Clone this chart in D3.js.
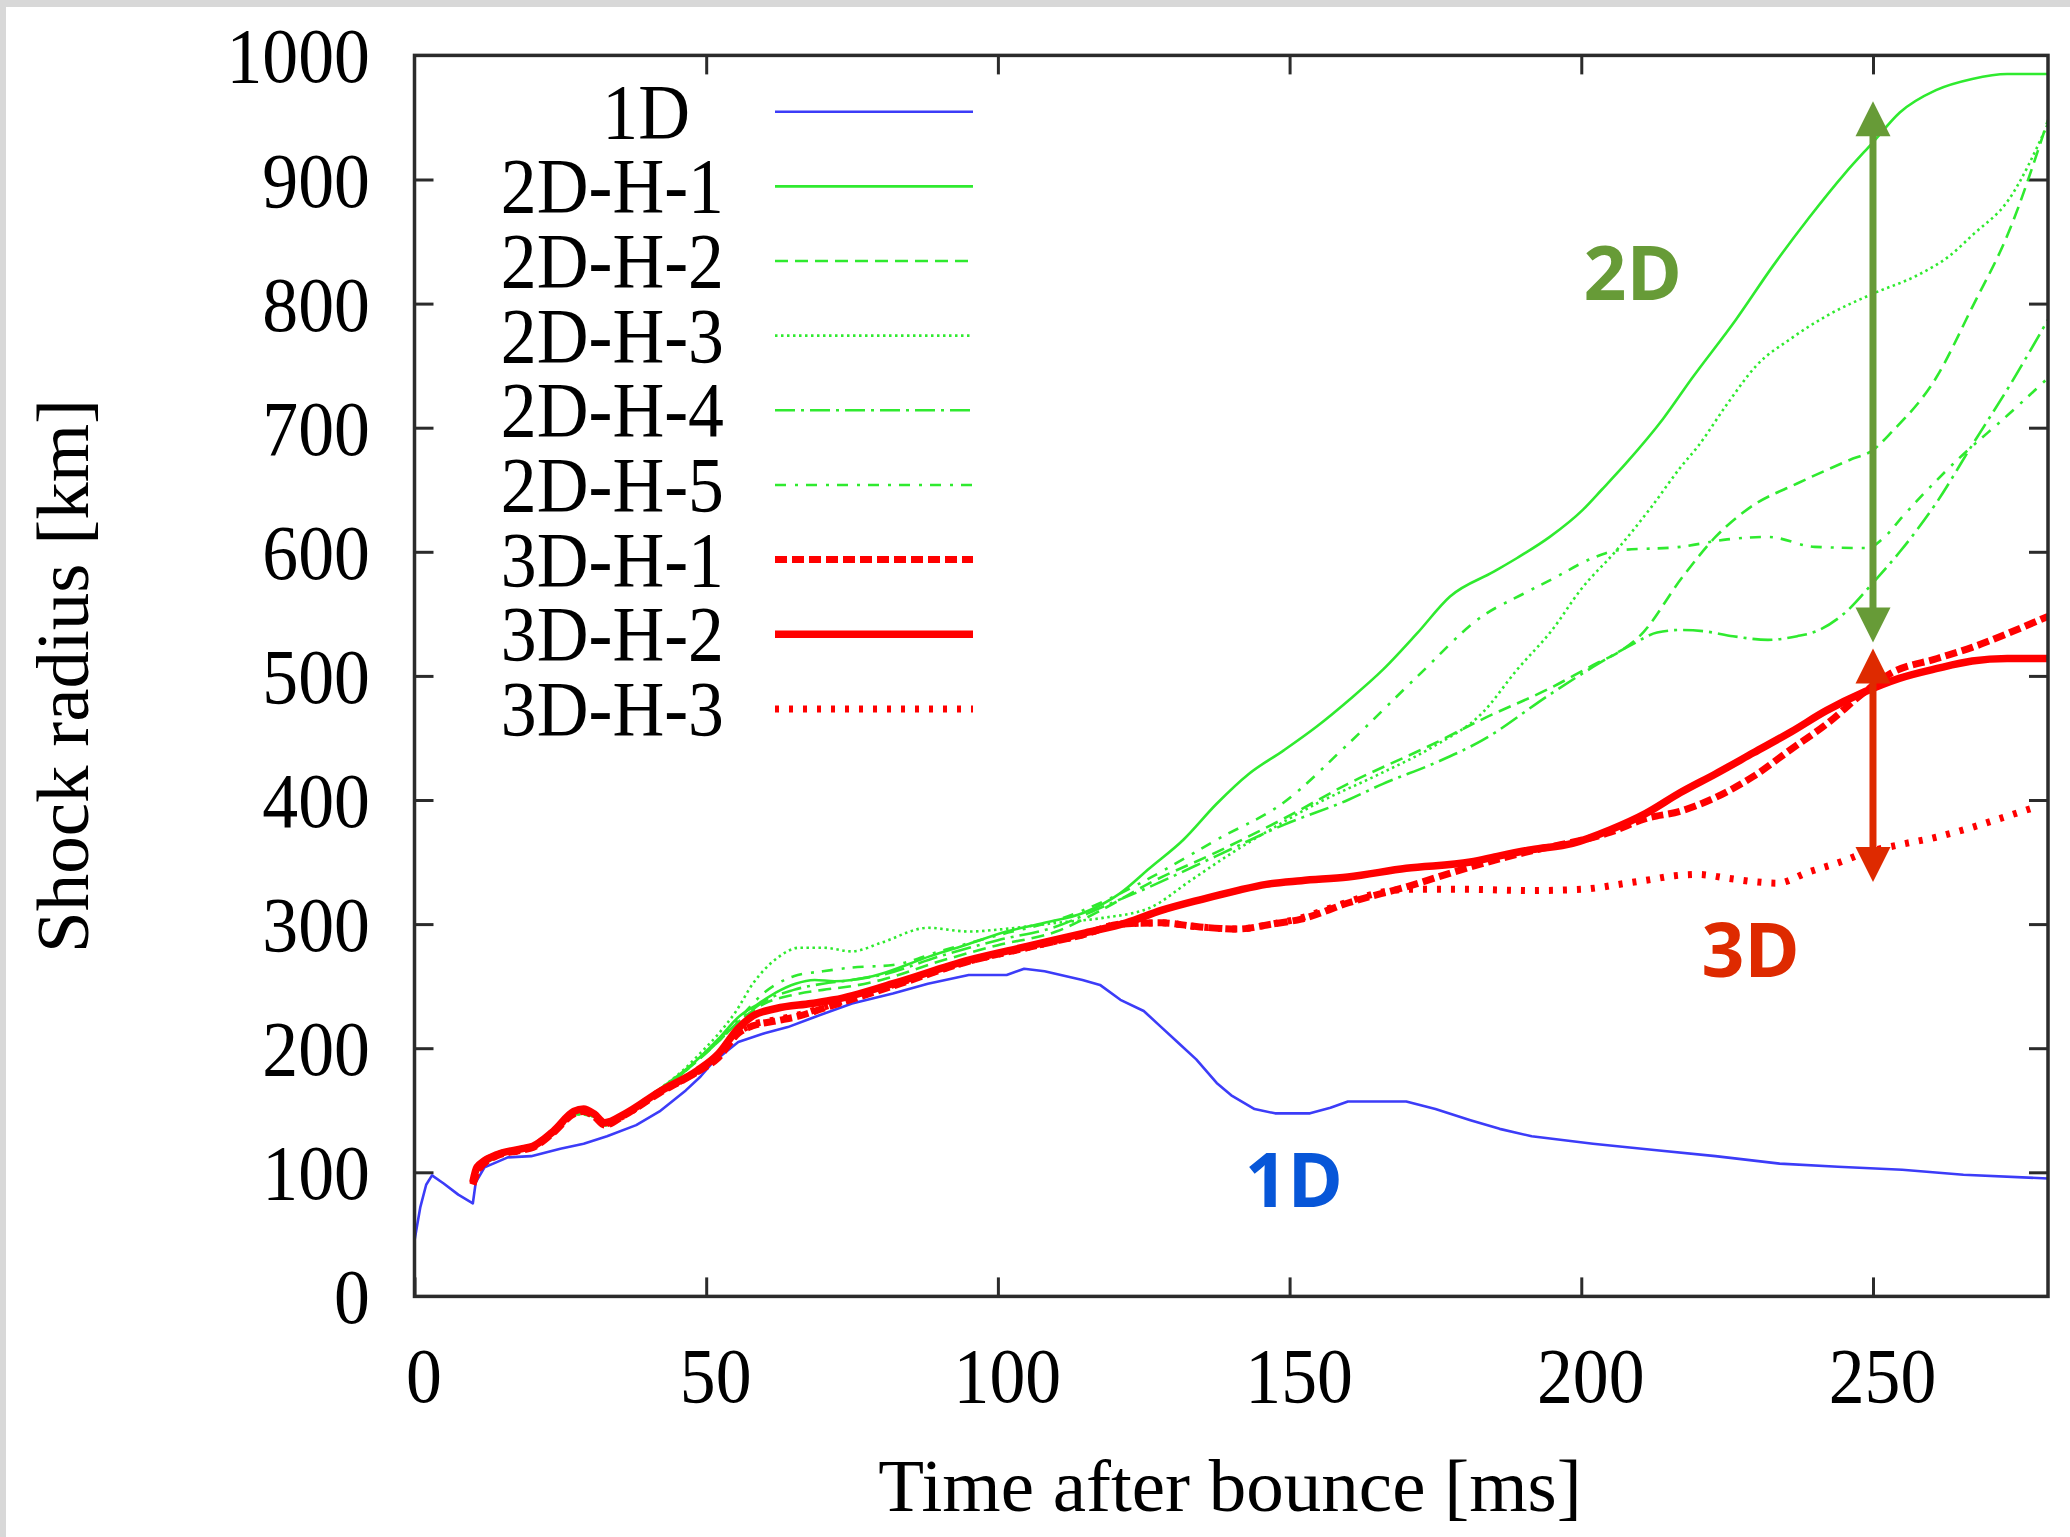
<!DOCTYPE html>
<html>
<head>
<meta charset="utf-8">
<script src="https://cdn.jsdelivr.net/npm/d3@7"></script>
<style>
  html, body { margin: 0; padding: 0; background: #ffffff; }
  svg { display: block; }
</style>
</head>
<body>
<script>
// Shock radius versus time after bounce for the 1D, 2D and 3D runs.
// Each series is a list of [time (ms), radius (km)] samples.

const r1D = [[0,45],[1,72],[2,90],[3,97.5],[5,91],[7.5,82],[10,75],[10.5,92],[12,104],[16,112],[20,113],[25,119],[29,123],[33,129],[38,138],[42,149],[46.5,166],[49,177],[51,188],[55.5,205],[60,212],[64,217],[68.5,225],[75,236],[82,244],[88,252],[95,259],[101.5,259],[104.5,264],[108,262],[114.5,255],[117.5,251],[121,239],[125,230],[128,217],[131,204],[134,191],[137.5,172],[140,162],[144,151],[147.5,147.5],[153.5,147.5],[157,152],[160,157],[170,157],[175,151],[181,142],[186,135],[191.5,129],[202,123],[212.5,118],[223,113],[234,107],[244,104.5],[255,102],[265.5,98],[280,95]];

const r2DH1 = [[10,92],[11,103],[14,113],[20,121],[24,133],[27.3,148],[30.8,146],[32.6,139],[36,147],[42,167],[46,181],[49,193],[52,207],[55.5,225],[59,236],[62,245],[65.3,252],[68.6,255],[72,254],[78.5,258],[88.3,274],[95,284],[101.5,294],[108,301],[114.6,309],[121,325],[126,345],[131.8,368],[137.5,397],[143,421],[149,440],[154.6,459],[160.3,481],[166,505],[171.8,534],[177.5,564],[185,584],[189,595],[194.6,612],[200.3,634],[203.5,650],[207.8,672],[214,707],[219,740],[226.5,787],[232.8,830],[239,869],[245.2,905],[250,930],[254.6,954],[260.8,972],[267,981],[273,985],[280,985]];

const r2DH2 = [[10,91],[11,102],[14,112],[20,120],[24,132],[27.3,147],[30.8,145],[32.6,138],[36,146],[42,166],[46,180],[49,192],[52,205],[55.5,221],[60,236],[65,243],[70,247],[75,250],[80,255],[90,270],[100,283],[110,294],[118,312],[126,333],[137.5,358],[149,385],[160,413],[175,446],[183,465],[194.6,490],[203,511],[206,518],[210,532],[217.4,580],[223,612],[229,636],[237,655],[246,674],[250,682],[253.3,697],[260.8,740],[267,797],[273.3,858],[280,948]];

const r2DH3 = [[10,91],[11,102],[14,112],[20,120],[24,132],[27.3,147],[30.8,145],[32.6,138],[36,146],[42,167],[46,182],[49,196],[52,211],[55,229],[58,252],[62,272],[66,281],[70,281],[75,278],[80,285],[88,297],[95,294],[101,296],[110,301],[118,305],[126,313],[133,335],[140,357],[147,377],[154.6,397],[165,420],[174.6,443],[183,470],[189,505],[195,537],[200,570],[206,601],[212,636],[217,668],[220,685],[225,719],[230,750],[236,772],[242,790],[250,808],[257.7,823],[263,838],[267,855],[273.3,884],[280,945]];

const r2DH4 = [[10,91],[11,102],[14,112],[20,120],[24,132],[27.3,147],[30.8,145],[32.6,138],[36,146],[42,166],[46,180],[49,192],[52,205],[55.5,221],[60,238],[65,247],[70,252],[75,255],[80,259],[90,274],[100,287],[110,298],[118,314],[126,330],[137.5,355],[149,380],[160,400],[166,413],[175,430],[183,448],[194.6,485],[203,510],[209,526],[213,535],[217,537],[221,536],[226,532],[232,529],[237,532],[240.3,536],[245,550],[250,575],[254.6,600],[260.8,639],[267,686],[273.3,733],[280,787]];

const r2DH5 = [[10,91],[11,102],[14,112],[20,120],[24,132],[27.3,147],[30.8,145],[32.6,138],[36,146],[42,166],[46,180],[49,193],[52,206],[55.5,223],[60,245],[65,258],[70,262],[75,265],[82,267],[90,278],[100,291],[110,303],[118,318],[126,337],[137.5,368],[149,398],[160,445],[172,500],[183,548],[190,566],[195,578],[202,595],[206,601],[217,604],[225,610],[232,612],[240,604],[249,603],[252,612],[255,628],[264,672],[273.3,711],[280,740]];

const r3DH1 = [[10,90],[11,102],[14,113],[18.5,118],[20.3,120],[23.8,132],[27.3,147],[29,149],[30.8,145],[32.6,138],[36,146],[42,164],[48.5,181],[52,192],[55.5,212],[58,218],[62,222],[66,226],[70,232],[82,250],[95,270],[105,281],[115,292],[121,300],[128,301],[134,298],[141,296],[147,300],[152,304],[160,317],[170,330],[181,346],[191.5,359],[198.5,366],[205,374],[211,385],[217,391],[223,402],[229.5,419],[236,441],[242,461],[248.3,486],[253,502],[261,514],[267,523],[273,534],[280,548]];

const r3DH2 = [[10,92],[10.7,104],[14,114],[18.5,119],[20.3,121],[23.8,133],[27.3,149],[29,151],[30.8,147],[32.6,140],[36,147],[42,165],[48.5,182],[52,195],[55.5,216],[58,226],[62,232],[68,236],[72,239],[82,252],[95,271],[105,282],[115,293],[122,301],[128,311],[135,320],[141,327],[146,332],[152,335],[160,338],[170,345],[181,350],[186,355],[191.5,360],[198.5,365],[205,376],[211,389],[217,406],[223,421],[229.5,438],[236,455],[242,472],[248.5,487],[254.5,498],[261,506],[267,512],[273,514],[280,514]];

const r3DH3 = [[10,91],[11,103],[14,114],[18.5,118],[20.3,121],[23.8,133],[27.3,148],[29,150],[30.8,146],[32.6,139],[36,146],[42,165],[48.5,181],[52,193],[55.5,213],[58,219],[62,223],[66,227],[70,233],[82,251],[95,270],[105,281],[115,292],[121,300],[128,301],[134,298],[141,296],[147,300],[152,305],[157,313],[162,321],[166,326],[170,328],[180,328],[191.5,327],[200,328],[207.8,333],[212,336],[216,339],[220,340],[225,337],[230,334],[233.5,333],[239,342],[244.4,350],[248.3,357],[254.6,364],[260.8,370],[267,378],[273,387],[277,393]];

const seriesNames = ["1D", "2D-H-1", "2D-H-2", "2D-H-3", "2D-H-4", "2D-H-5", "3D-H-1", "3D-H-2", "3D-H-3"];
const seriesValues = [r1D, r2DH1, r2DH2, r2DH3, r2DH4, r2DH5, r3DH1, r3DH2, r3DH3];

const xTicks = [0, 50, 100, 150, 200, 250];
const yTicks = [0, 100, 200, 300, 400, 500, 600, 700, 800, 900, 1000];

// Double-headed arrows marking the spread of the 2D and 3D runs at t = 250 ms
const spreadTime = 250;
const spread2D = [527, 963];
const spread3D = [334, 522];

// Group labels: text, anchor time, anchor radius (baseline)
const groupLabels = [
  { text: "2D", t: 200.4, r: 803 },
  { text: "3D", t: 220.6, r: 257 },
  { text: "1D", t: 142.3, r: 72 }
];

// ---- styles -------------------------------------------------------------
const GREEN = "#2fea2f", RED = "#ff0000", BLUE = "#3c3cf8";
const styles = {
  "1D":     { color: BLUE,  width: 2.6, dash: null,        curve: d3.curveLinear },
  "2D-H-1": { color: GREEN, width: 2.6, dash: null,        curve: d3.curveMonotoneX },
  "2D-H-2": { color: GREEN, width: 2.6, dash: "13,7",      curve: d3.curveMonotoneX },
  "2D-H-3": { color: GREEN, width: 2.6, dash: "2.5,3.5",   curve: d3.curveMonotoneX },
  "2D-H-4": { color: GREEN, width: 2.6, dash: "20,6,3,6",  curve: d3.curveMonotoneX },
  "2D-H-5": { color: GREEN, width: 2.6, dash: "11,9,3,8",  curve: d3.curveMonotoneX },
  "3D-H-1": { color: RED,   width: 7,   dash: "12,5",      curve: d3.curveMonotoneX },
  "3D-H-2": { color: RED,   width: 7.5, dash: null,        curve: d3.curveMonotoneX },
  "3D-H-3": { color: RED,   width: 7,   dash: "4,10",      curve: d3.curveMonotoneX }
};

const W = 2070, H = 1537;
const x = d3.scaleLinear().domain([0, 280]).range([414.5, 2048]);
const y = d3.scaleLinear().domain([0, 1000]).range([1296.4, 55.4]);

const svg = d3.select("body").append("svg")
  .attr("width", W).attr("height", H)
  .attr("viewBox", `0 0 ${W} ${H}`);

// page background with the thin grey margin along top and left
svg.append("rect").attr("width", W).attr("height", H).attr("fill", "#d8d8d8");
svg.append("rect").attr("x", 6).attr("y", 7).attr("width", W - 6).attr("height", H - 7).attr("fill", "#ffffff");

const serif = "'Liberation Serif', 'Times New Roman', serif";
const sans = "'Open Sans', 'Noto Sans', sans-serif";
const INK = "#2b2b2b";

// clip the curves to the plotting box
svg.append("clipPath").attr("id", "plotClip")
  .append("rect")
  .attr("x", x(0)).attr("y", y(1000))
  .attr("width", x(280) - x(0)).attr("height", y(0) - y(1000));

// ---- axes (ticks on all four sides, pointing inwards) -------------------
const tickLen = 19;
function styleAxis(g) {
  g.select(".domain").remove();
  g.selectAll(".tick line").attr("stroke", INK).attr("stroke-width", 3);
}

const xAxisB = svg.append("g").attr("transform", `translate(0,${y(0)})`)
  .call(d3.axisBottom(x).tickValues(xTicks).tickSizeInner(-tickLen).tickSizeOuter(0).tickFormat(d3.format("d")));
styleAxis(xAxisB);
xAxisB.selectAll(".tick text")
  .attr("y", 0).attr("dy", null)
  .attr("transform", "translate(9,105.6) scale(0.92,1)")
  .attr("text-anchor", "middle")
  .attr("fill", "#000")
  .style("font-family", serif).style("font-size", "78px");

const xAxisT = svg.append("g").attr("transform", `translate(0,${y(1000)})`)
  .call(d3.axisTop(x).tickValues(xTicks.filter(d => d > 0)).tickSizeInner(-tickLen).tickSizeOuter(0).tickFormat(""));
styleAxis(xAxisT);

const yAxisL = svg.append("g").attr("transform", `translate(${x(0)},0)`)
  .call(d3.axisLeft(y).tickValues(yTicks).tickSizeInner(-tickLen).tickSizeOuter(0).tickFormat(d3.format("d")));
styleAxis(yAxisL);
yAxisL.selectAll(".tick line").filter(d => d === 0 || d === 1000).remove();
yAxisL.selectAll(".tick text")
  .attr("x", 0).attr("dy", null)
  .attr("transform", "translate(-44.5,26.5) scale(0.92,1)")
  .attr("text-anchor", "end")
  .attr("fill", "#000")
  .style("font-family", serif).style("font-size", "78px");

const yAxisR = svg.append("g").attr("transform", `translate(${x(280)},0)`)
  .call(d3.axisRight(y).tickValues(yTicks.filter(d => d > 0 && d < 1000)).tickSizeInner(-tickLen).tickSizeOuter(0).tickFormat(""));
styleAxis(yAxisR);

// ---- curves --------------------------------------------------------------
const plot = svg.append("g").attr("clip-path", "url(#plotClip)");
const drawOrder = [1, 2, 3, 4, 5, 0, 6, 8, 7];
drawOrder.forEach(i => {
  const name = seriesNames[i];
  const st = styles[name];
  const line = d3.line().x(d => x(d[0])).y(d => y(d[1])).curve(st.curve);
  plot.append("path")
    .datum(seriesValues[i])
    .attr("d", line)
    .attr("fill", "none")
    .attr("stroke", st.color)
    .attr("stroke-width", st.width)
    .attr("stroke-dasharray", st.dash)
    .attr("stroke-linejoin", "round")
    .attr("stroke-linecap", "butt");
});

// ---- frame ---------------------------------------------------------------
svg.append("rect")
  .attr("x", x(0)).attr("y", y(1000))
  .attr("width", x(280) - x(0)).attr("height", y(0) - y(1000))
  .attr("fill", "none").attr("stroke", INK).attr("stroke-width", 3.5);

// ---- key -----------------------------------------------------------------
const keyTop = 111.7, keyStep = 74.65, keyTextRight = 724, keyLineX0 = 775, keyLineX1 = 973;
const key = svg.append("g");
seriesNames.forEach((name, i) => {
  const st = styles[name];
  const ry = keyTop + i * keyStep;
  key.append("text")
    .attr("transform", `translate(${keyTextRight + (name === "1D" ? -34 : 0)},${ry + 26}) scale(0.92,1)`)
    .attr("text-anchor", "end")
    .style("font-family", serif).style("font-size", "78px")
    .attr("fill", "#000")
    .text(name);
  key.append("line")
    .attr("x1", keyLineX0).attr("x2", keyLineX1)
    .attr("y1", ry).attr("y2", ry)
    .attr("stroke", st.color)
    .attr("stroke-width", st.width)
    .attr("stroke-dasharray", st.dash);
});

// ---- axis titles -----------------------------------------------------------
svg.append("text")
  .attr("x", 1230).attr("y", 1511)
  .attr("text-anchor", "middle")
  .style("font-family", serif).style("font-size", "75px")
  .attr("fill", "#000")
  .text("Time after bounce [ms]");

svg.append("text")
  .attr("transform", "translate(88,676) rotate(-90)")
  .attr("text-anchor", "middle")
  .style("font-family", serif).style("font-size", "75px")
  .attr("fill", "#000")
  .text("Shock radius [km]");

// ---- spread arrows ---------------------------------------------------------
function doubleArrow(span, color) {
  const cx = x(spreadTime);
  const yLow = y(span[0]), yHigh = y(span[1]);
  const hw = 17.5, hl = 35;
  const g = svg.append("g");
  g.append("line")
    .attr("x1", cx).attr("x2", cx)
    .attr("y1", yHigh + hl - 2).attr("y2", yLow - hl + 2)
    .attr("stroke", color).attr("stroke-width", 7);
  g.append("path")
    .attr("d", `M${cx},${yHigh} L${cx - hw},${yHigh + hl} L${cx + hw},${yHigh + hl} Z`)
    .attr("fill", color);
  g.append("path")
    .attr("d", `M${cx},${yLow} L${cx - hw},${yLow - hl} L${cx + hw},${yLow - hl} Z`)
    .attr("fill", color);
}
doubleArrow(spread2D, "#679b37");
doubleArrow(spread3D, "#de2a00");

// ---- group labels ----------------------------------------------------------
const labelColors = { "2D": "#679b37", "3D": "#de2a00", "1D": "#0756d8" };
groupLabels.forEach(d => {
  svg.append("text")
    .attr("x", x(d.t)).attr("y", y(d.r))
    .style("font-family", sans).style("font-weight", 700).style("font-size", "75px")
    .attr("fill", labelColors[d.text])
    .text(d.text);
});
</script>
</body>
</html>
